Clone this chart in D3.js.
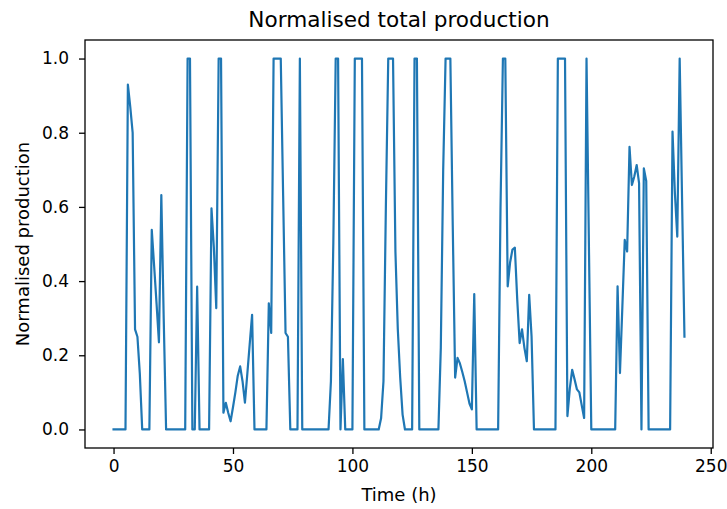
<!DOCTYPE html>
<html>
<head>
<meta charset="utf-8">
<script src="https://cdn.jsdelivr.net/npm/d3@7"></script>
<style>
  body { margin: 0; background: #fff; }
  text { font-family: "DejaVu Sans", sans-serif; fill: #000; }
</style>
</head>
<body>
<script>
"use strict";
// normalised production, one value per hour (0..239)
const production = [
  0, 0, 0, 0, 0, 0, 0.93, 0.87, 0.80, 0.27,
  0.25, 0.15, 0, 0, 0, 0, 0.538, 0.44, 0.34, 0.235,
  0.632, 0.3, 0, 0, 0, 0, 0, 0, 0, 0,
  0, 1, 1, 0, 0, 0.385, 0, 0, 0, 0,
  0, 0.596, 0.49, 0.327, 1, 1, 0.045, 0.072, 0.045, 0.022,
  0.06, 0.1, 0.145, 0.17, 0.13, 0.072, 0.15, 0.23, 0.309, 0,
  0, 0, 0, 0, 0, 0.34, 0.26, 1, 1, 1,
  1, 0.63, 0.26, 0.25, 0, 0, 0, 0, 1, 0,
  0, 0, 0, 0, 0, 0, 0, 0, 0, 0,
  0, 0.13, 0.5, 1, 1, 0, 0.19, 0, 0, 0,
  0, 1, 1, 1, 1, 0, 0, 0, 0, 0,
  0, 0, 0.03, 0.13, 0.6, 1, 1, 1, 0.48, 0.27,
  0.14, 0.04, 0, 0, 0, 0, 1, 1, 0, 0,
  0, 0, 0, 0, 0, 0, 0, 0.22, 0.7, 1,
  1, 1, 0.55, 0.14, 0.193, 0.178, 0.155, 0.13, 0.1, 0.07,
  0.054, 0.365, 0, 0, 0, 0, 0, 0, 0, 0,
  0, 0, 0.6, 1, 1, 0.386, 0.45, 0.485, 0.49, 0.35,
  0.233, 0.27, 0.22, 0.184, 0.363, 0.25, 0, 0, 0, 0,
  0, 0, 0, 0, 0, 0, 1, 1, 1, 1,
  0.036, 0.11, 0.161, 0.135, 0.108, 0.1, 0.065, 0.031, 1, 0.5,
  0, 0, 0, 0, 0, 0, 0, 0, 0, 0,
  0, 0.386, 0.152, 0.33, 0.511, 0.48, 0.762, 0.659, 0.682, 0.713,
  0.664, 0, 0.704, 0.67, 0, 0, 0, 0, 0, 0,
  0, 0, 0, 0, 0.803, 0.637, 0.52, 1, 0.62, 0.25
];
const hours = production.map((d, i) => i);

const xTicks = [0, 50, 100, 150, 200, 250];
const yTicks = [0, 0.2, 0.4, 0.6, 0.8, 1.0];

const width = 727;
const height = 509;
const margin = { top: 40, right: 14, bottom: 61, left: 85 };
const w = width - margin.left - margin.right;
const h = height - margin.top - margin.bottom;

const svg = d3.select("body")
  .append("svg")
  .attr("width", width)
  .attr("height", height);

const g = svg.append("g")
  .attr("transform", `translate(${margin.left},${margin.top})`);

// matplotlib style 5% margins
const xPad = (d3.max(hours) - d3.min(hours)) * 0.05;
const x = d3.scaleLinear()
  .domain([d3.min(hours) - xPad, d3.max(hours) + xPad])
  .range([0, w]);

const y = d3.scaleLinear()
  .domain([-0.05, 1.05])
  .range([h, 0]);

const xAxis = g.append("g")
  .attr("transform", `translate(0,${h})`)
  .call(d3.axisBottom(x).tickValues(xTicks).tickSize(6).tickPadding(6));

const yAxis = g.append("g")
  .call(d3.axisLeft(y).tickValues(yTicks).tickSize(6).tickPadding(10)
    .tickFormat(d3.format(".1f")));

[xAxis, yAxis].forEach(a => {
  a.select(".domain").remove();
  a.selectAll(".tick line").attr("stroke", "#000").attr("stroke-width", 1.3);
  a.selectAll(".tick text")
    .style("font-family", "DejaVu Sans")
    .style("font-size", "17px")
    .attr("fill", "#000");
});

// the line
const line = d3.line()
  .x((d, i) => x(hours[i]))
  .y(d => y(d));

g.append("path")
  .datum(production)
  .attr("fill", "none")
  .attr("stroke", "#1f77b4")
  .attr("stroke-width", 2.2)
  .attr("stroke-linejoin", "round")
  .attr("stroke-linecap", "square")
  .attr("d", line);

// frame
g.append("rect")
  .attr("width", w)
  .attr("height", h)
  .attr("fill", "none")
  .attr("stroke", "#000")
  .attr("stroke-width", 1.3);

svg.append("text")
  .attr("x", margin.left + w / 2)
  .attr("y", 27)
  .attr("text-anchor", "middle")
  .style("font-size", "21.6px")
  .text("Normalised total production");

svg.append("text")
  .attr("x", margin.left + w / 2)
  .attr("y", 501)
  .attr("text-anchor", "middle")
  .style("font-size", "18px")
  .text("Time (h)");

svg.append("text")
  .attr("transform", `translate(29,${margin.top + h / 2}) rotate(-90)`)
  .attr("text-anchor", "middle")
  .style("font-size", "18px")
  .text("Normalised production");
</script>
</body>
</html>
